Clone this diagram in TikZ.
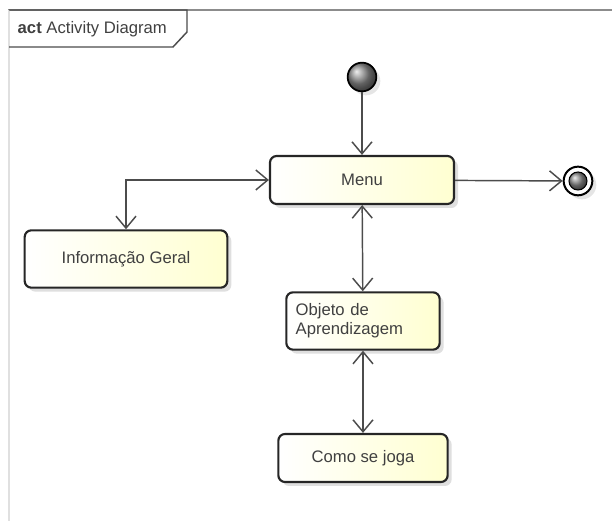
\documentclass[tikz,border=0pt]{standalone}
\usepackage{fontspec}
\setmainfont{Liberation Sans}
\usetikzlibrary{arrows.meta,shadows}
\begin{document}
\begin{tikzpicture}[x=0.75pt, y=0.75pt, >={Straight Barb[length=9pt,width=15pt]},
		line width=1.1pt,
		every node/.style={font=\fontsize{12.5}{14}\selectfont, text=black!75},
		action/.style={draw=black!85, line width=1.6pt, rounded corners=5pt, left color=white, right color=yellow!18,
			drop shadow={shadow xshift=3pt, shadow yshift=-3pt, fill=black!25}},
		flow/.style={draw=black!70, line width=1.1pt}]
	\useasboundingbox (0,0) rectangle (612,521);
	
	% frame
	\draw[black!45, line width=1.6pt] (8,511) -- (612,511);
	\draw[black!12, line width=1.2pt] (9,511) -- (9,0);
	\draw[black!70, line width=1.1pt] (9,511) -- (187,511) -- (187,489) -- (173,474) -- (9,474);
	\node[anchor=west, inner sep=0pt] (title) at (17,492) {\textbf{act} Activity Diagram};
	
	% start / end
	\node[circle, draw=black, line width=1.3pt, ball color=black!45, minimum size=21.5pt, inner sep=0pt,
		drop shadow={shadow xshift=3pt, shadow yshift=-3pt, fill=black!20}] (start) at (362,444) {};
	\node[circle, draw=black, line width=1.5pt, fill=white, minimum size=21.5pt, inner sep=0pt,
		drop shadow={shadow xshift=3pt, shadow yshift=-3pt, fill=black!20}] (finish) at (578,340) {};
	\node[circle, ball color=black!45, draw=black, line width=0.8pt, minimum size=13.5pt, inner sep=0pt] (finishdot) at (finish) {};
	
	% actions
	\node[action, minimum width=138pt, minimum height=36pt] (menu) at (362,341) {Menu};
	\node[action, minimum width=152pt, minimum height=43pt] (info) at (126,262) {Informação Geral};
	\node[action, minimum width=115pt, minimum height=43pt, text width=101pt, inner xsep=7pt, align=left] (objeto) at (363,200) {Objeto de\\Aprendizagem};
	\node[action, minimum width=127pt, minimum height=36pt] (jogo) at (363,63) {Como se joga};
	
	% flows
	\draw[flow, ->] (start) -- (menu);
	\draw[flow, ->] (menu) -- (finish);
	\draw[flow, <->] (menu.west) -| (info.north);
	\draw[flow, <->] (menu) -- (objeto);
	\draw[flow, <->] (objeto) -- (jogo);
\end{tikzpicture}
\end{document}
